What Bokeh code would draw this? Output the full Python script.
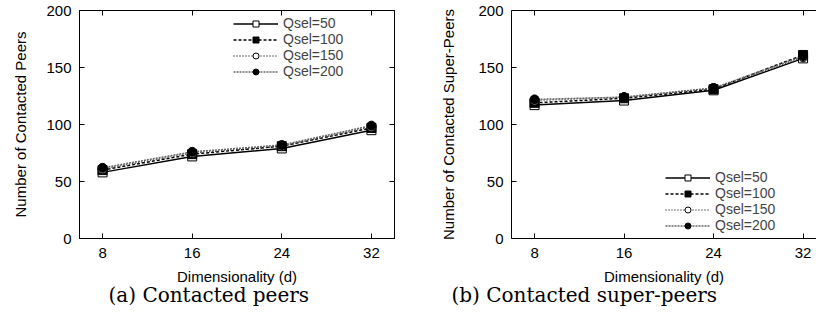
from bokeh.plotting import figure
from bokeh.layouts import row
from bokeh.models import Range1d, FixedTicker, LinearAxis, Legend, LegendItem, Title
from bokeh.embed import file_html
from bokeh.resources import INLINE

# ---- data ----
x_dims = [8, 16, 24, 32]
x_ticks = [8, 16, 24, 32]
y_ticks = [0, 50, 100, 150, 200]
series_labels = ["Qsel=50", "Qsel=100", "Qsel=150", "Qsel=200"]

peers_q50 = [58, 72, 79, 95]
peers_q100 = [60, 74, 81, 97]
peers_q150 = [61, 75, 81, 98]
peers_q200 = [62, 76, 82, 99]

super_q50 = [117, 121, 130, 158]
super_q100 = [119, 123, 131, 161]
super_q150 = [121, 124, 132, 159]
super_q200 = [122, 124, 132, 160]

# ---- styles ----
SANS = "Liberation Sans"
SERIF = "DejaVu Serif"
styles = [
    dict(line_color="black", line_dash="solid", marker="square", fill="white"),
    dict(line_color="black", line_dash="3 2", marker="square", fill="black"),
    dict(line_color="#444444", line_dash="1 2", marker="circle", fill="white"),
    dict(line_color="#666666", line_dash="2 1", marker="circle", fill="black"),
]


def style_axis(ax, ticks, show_labels=True):
    ax.axis_line_color = "black"
    ax.axis_line_width = 1
    ax.major_tick_in = 5
    ax.major_tick_out = 0
    ax.minor_tick_line_color = None
    ax.major_tick_line_color = "black"
    ax.major_label_text_font = SANS
    ax.major_label_text_font_size = "15px"
    ax.major_label_text_color = "black"
    ax.axis_label_text_font = SANS
    ax.axis_label_text_font_size = "15px"
    ax.axis_label_text_font_style = "normal"
    ax.axis_label_text_color = "black"
    if not show_labels:
        ax.major_label_overrides = {t: "" for t in ticks}
        ax.major_label_standoff = 0


def make_panel(series, ylabel, caption, width, border_left, border_right,
               x_start, x_end, legend_loc, caption_offset, right_mirror, ylabel_standoff):
    p = figure(width=width, height=320, output_backend="svg", toolbar_location=None,
               x_range=Range1d(x_start, x_end), y_range=Range1d(0, 200),
               min_border_left=border_left, min_border_right=border_right,
               min_border_top=10, min_border_bottom=82)
    p.grid.visible = False
    p.outline_line_color = "black" if right_mirror else None
    p.background_fill_color = "white"
    p.border_fill_color = "white"

    p.xaxis.ticker = FixedTicker(ticks=x_ticks)
    p.yaxis.ticker = FixedTicker(ticks=y_ticks)
    p.xaxis.axis_label = "Dimensionality (d)"
    p.yaxis.axis_label = ylabel
    for ax in p.xaxis:
        style_axis(ax, x_ticks)
    for ax in p.yaxis:
        style_axis(ax, y_ticks)
    p.xaxis.major_label_standoff = 9
    p.xaxis.axis_label_standoff = 7
    p.yaxis.major_label_standoff = 8
    p.yaxis.axis_label_standoff = ylabel_standoff

    top_ax = LinearAxis(ticker=FixedTicker(ticks=x_ticks))
    style_axis(top_ax, x_ticks, show_labels=False)
    p.add_layout(top_ax, "above")
    if right_mirror:
        right_ax = LinearAxis(ticker=FixedTicker(ticks=y_ticks))
        style_axis(right_ax, y_ticks, show_labels=False)
        p.add_layout(right_ax, "right")

    items = []
    for lab, ys, st in zip(series_labels, series, styles):
        lr = p.line(x_dims, ys, line_color=st["line_color"], line_dash=st["line_dash"],
                    line_width=1.5)
        mr = p.scatter(x_dims, ys, marker=st["marker"], size=9,
                       fill_color=st["fill"], line_color="black", line_width=1)
        items.append(LegendItem(label=lab, renderers=[lr, mr]))

    legend = Legend(items=items, location=legend_loc,
                    border_line_color=None, background_fill_alpha=0,
                    label_text_font=SANS, label_text_font_size="14px",
                    glyph_width=45, glyph_height=15, label_height=15,
                    spacing=0, padding=0, margin=0, label_standoff=5)
    p.add_layout(legend)

    cap = Title(text=caption, align="left", offset=caption_offset,
                text_font=SERIF, text_font_size="20px", text_font_style="normal",
                text_color="black", standoff=-13)
    p.add_layout(cap, "below")
    return p


p1 = make_panel([peers_q50, peers_q100, peers_q150, peers_q200],
                "Number of Contacted Peers", "(a) Contacted peers",
                408, 79, 14, 5.94, 34.06, (154, 159), 29, True, 14)
p2 = make_panel([super_q50, super_q100, super_q150, super_q200],
                "Number of Contacted Super-Peers", "(b) Contacted super-peers",
                408, 103, 0, 5.94, 33.2, (154, 5), -60, False, 18)

layout = row(p1, p2, spacing=0)

with open("out.html", "w") as f:
    f.write(file_html(layout, INLINE))
